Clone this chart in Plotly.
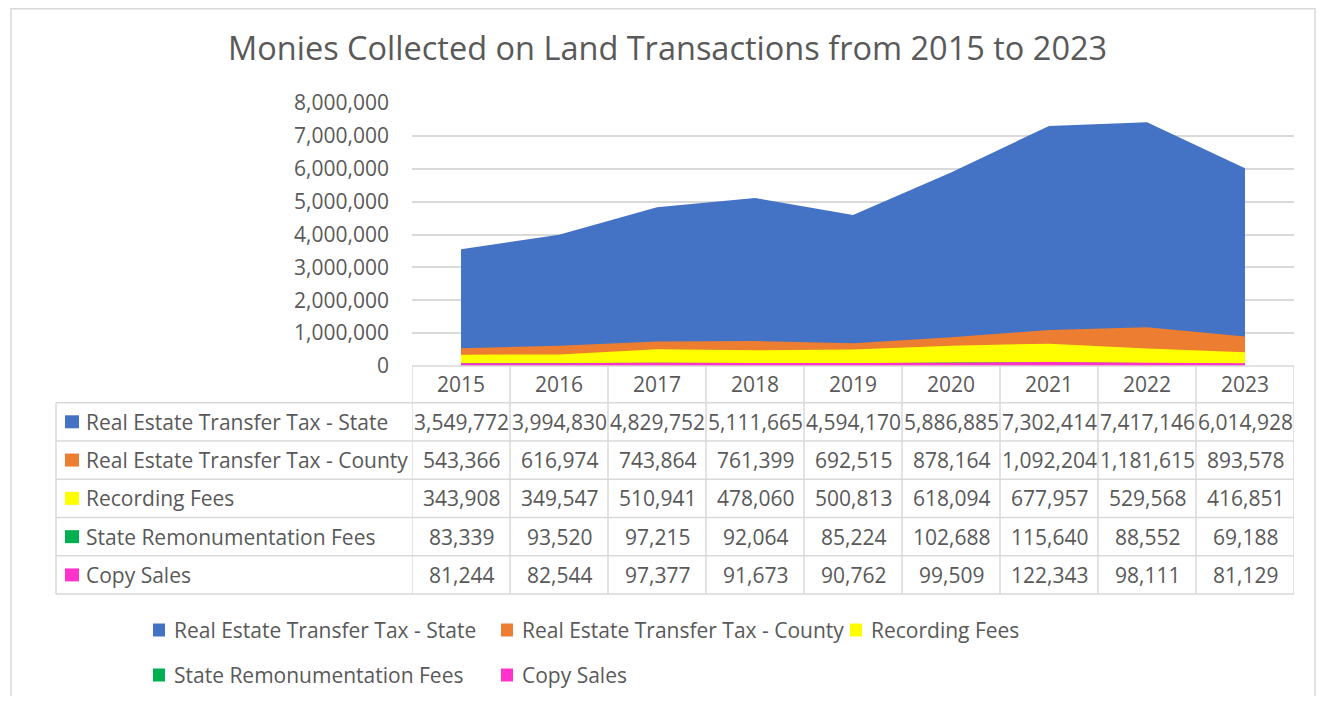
import plotly.graph_objects as go

years = [2015, 2016, 2017, 2018, 2019, 2020, 2021, 2022, 2023]
series_names = [
    "Real Estate Transfer Tax - State",
    "Real Estate Transfer Tax - County",
    "Recording Fees",
    "State Remonumentation Fees",
    "Copy Sales",
]
state_tax = [3549772, 3994830, 4829752, 5111665, 4594170, 5886885, 7302414, 7417146, 6014928]
county_tax = [543366, 616974, 743864, 761399, 692515, 878164, 1092204, 1181615, 893578]
recording_fees = [343908, 349547, 510941, 478060, 500813, 618094, 677957, 529568, 416851]
remon_fees = [83339, 93520, 97215, 92064, 85224, 102688, 115640, 88552, 69188]
copy_sales = [81244, 82544, 97377, 91673, 90762, 99509, 122343, 98111, 81129]
y_ticks = [0, 1000000, 2000000, 3000000, 4000000, 5000000, 6000000, 7000000, 8000000]

COLORS = ["#4472C4", "#ED7D31", "#FFFF00", "#00B050", "#FF33CC"]
TEXT = "#595959"
GRID = "#D9D9D9"
FONT = "Open Sans"
FS = 21

# page body keeps an 8px margin, so size the figure to fit inside the window
OX, OY = 8, 8
W, H = 1308, 688


def px(x):
    return (x - OX) / W


def py(y):
    return 1 - (y - OY) / H


def label(x, y, text, size=FS, xref="paper", xanchor="center"):
    return dict(x=x, xref=xref, y=py(y), yref="paper", text=text,
                showarrow=False, xanchor=xanchor, yanchor="middle",
                font=dict(size=size, color=TEXT, family=FONT))


all_series = [state_tax, county_tax, recording_fees, remon_fees, copy_sales]
xs = list(range(len(years)))

fig = go.Figure()
for name, vals, col in zip(series_names, all_series, COLORS):
    fig.add_trace(go.Scatter(
        x=xs, y=vals, name=name, mode="none",
        fill="tozeroy", fillcolor=col, showlegend=False,
    ))

shapes = []
annotations = []

# outer chart frame
shapes.append(dict(type="rect", xref="paper", yref="paper",
                   x0=px(11), x1=px(1315), y0=py(720), y1=py(8.8),
                   line=dict(color=GRID, width=1.5)))

# data table grid
row_edges = [402.7, 440.9, 479.2, 517.5, 555.8, 594]
shapes.append(dict(type="line", xref="paper", yref="paper",
                   x0=px(412), x1=px(1294), y0=py(366), y1=py(366),
                   line=dict(color=GRID, width=1.5)))
for ry in row_edges:
    shapes.append(dict(type="line", xref="paper", yref="paper",
                       x0=px(56), x1=px(1294), y0=py(ry), y1=py(ry),
                       line=dict(color=GRID, width=1.5)))
for k in range(len(years) + 1):
    shapes.append(dict(type="line", xref="x", yref="paper",
                       x0=k - 0.5, x1=k - 0.5, y0=py(594), y1=py(366),
                       line=dict(color=GRID, width=1.5)))
shapes.append(dict(type="line", xref="paper", yref="paper",
                   x0=px(56), x1=px(56), y0=py(594), y1=py(402.7),
                   line=dict(color=GRID, width=1.5)))

# year header
for i, yr in enumerate(years):
    annotations.append(label(i, 384, str(yr), xref="x"))

# table rows
for r, (name, vals, col) in enumerate(zip(series_names, all_series, COLORS)):
    yc = (row_edges[r] + row_edges[r + 1]) / 2
    shapes.append(dict(type="rect", xref="paper", yref="paper",
                       x0=px(65), x1=px(79), y0=py(yc + 6.5), y1=py(yc - 6.5),
                       fillcolor=col, line=dict(width=0)))
    annotations.append(label(px(84), yc, name, xanchor="left"))
    for i, v in enumerate(vals):
        annotations.append(label(i, yc, f"{v:,}", xref="x"))

# legend (Excel style, two rows)
legend_pos = [(153, 630), (501, 630), (850, 630), (153, 675), (501, 675)]
for (lx, ly), name, col in zip(legend_pos, series_names, COLORS):
    shapes.append(dict(type="rect", xref="paper", yref="paper",
                       x0=px(lx), x1=px(lx + 12), y0=py(ly + 6.5), y1=py(ly - 6.5),
                       fillcolor=col, line=dict(width=0)))
    annotations.append(label(px(lx + 19), ly, name, xanchor="left"))

# title
annotations.append(label(px(667), 48,
                         "Monies Collected on Land Transactions from 2015 to 2023",
                         size=32.5))

fig.update_layout(
    width=W, height=H,
    margin=dict(l=0, r=0, t=0, b=0, autoexpand=False),
    paper_bgcolor="white",
    plot_bgcolor="white",
    showlegend=False,
    shapes=shapes,
    annotations=annotations,
    xaxis=dict(
        domain=[px(412), px(1294)],
        range=[-0.5, len(years) - 0.5],
        showticklabels=False, showgrid=False, zeroline=False, showline=False,
        automargin=False,
    ),
    yaxis=dict(
        domain=[py(366), py(103)],
        range=[0, 8000000],
        tickvals=y_ticks,
        tickformat=",",
        showgrid=True, gridcolor=GRID, gridwidth=1.5,
        zeroline=False, showline=False,
        ticklabelstandoff=22,
        automargin=False,
        tickfont=dict(size=FS, color=TEXT, family=FONT),
    ),
)

fig.write_html("out.html")
